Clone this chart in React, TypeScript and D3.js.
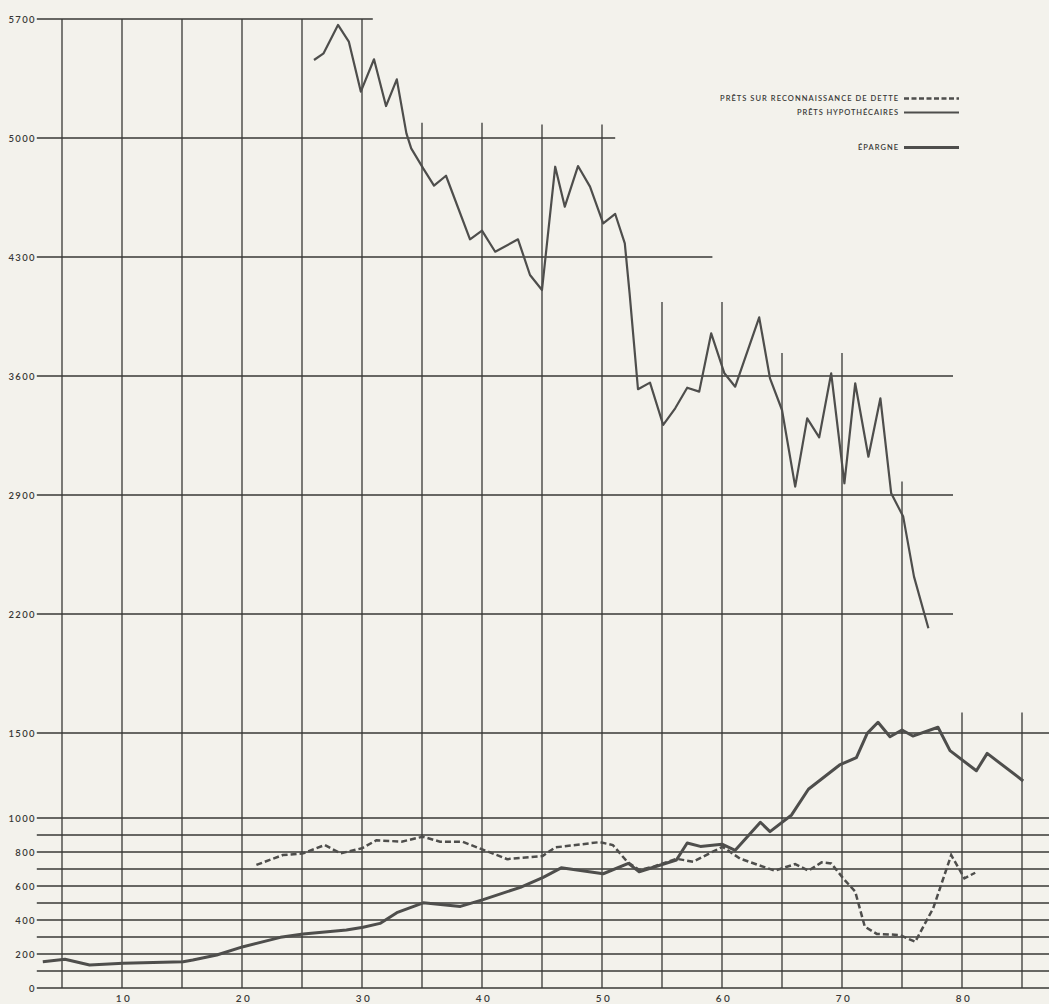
import * as d3 from 'd3';

// ---- data ----
const yTickLabels = [0, 200, 400, 600, 800, 1000, 1500, 2200, 2900, 3600, 4300, 5000, 5700];
const xTickLabels = [10, 20, 30, 40, 50, 60, 70, 80];

// horizontal rules: value and where (x units) the rule stops on the right
const hRuleValues = [0, 100, 200, 300, 400, 500, 600, 700, 800, 900, 1000, 1500, 2200, 2900, 3600, 4300, 5000, 5700];
const hRuleEnds = [87.3, 87.3, 87.3, 87.3, 87.3, 87.3, 87.3, 87.3, 87.3, 87.3, 87.3, 87.3, 79.25, 79.25, 79.25, 59.2, 51.1, 30.9];

// vertical rules: x and the value where each one starts at the top
const vRuleValues = [5, 10, 15, 20, 25, 30, 35, 40, 45, 50, 55, 60, 65, 70, 75, 80, 85];
const vRuleTops = [5700, 5700, 5700, 5700, 5700, 5700, 5090, 5090, 5080, 5080, 4035, 4035, 3735, 3735, 2980, 1620, 1620];

// Prêts hypothécaires (upper solid line)
const hypoX = [26, 26.8, 28, 28.9, 29.9, 31, 32, 32.9, 33.7, 34.1, 35.1, 36, 37, 39, 40, 41.1, 43, 44, 45, 46.1, 46.9, 48, 49, 50.1, 51.1, 51.9, 52.3, 53, 54, 55.1, 56.1, 57.1, 58.1, 59.1, 60.2, 61.1, 63.1, 64, 65, 66.1, 67.1, 68.1, 69.1, 70.2, 71.1, 72.2, 73.2, 74.1, 75.1, 76, 77.2];
const hypoV = [5459, 5498, 5665, 5567, 5273, 5463, 5188, 5345, 5027, 4939, 4821, 4720, 4778, 4404, 4455, 4331, 4404, 4194, 4106, 4831, 4596, 4835, 4714, 4498, 4553, 4380, 4086, 3522, 3561, 3312, 3410, 3531, 3508, 3851, 3616, 3537, 3945, 3586, 3400, 2949, 3351, 3239, 3616, 2969, 3557, 3125, 3469, 2910, 2773, 2420, 2116];

// Épargne (lower thick line)
const epX = [3.4, 5.25, 7.3, 10.1, 15.1, 15.9, 17.9, 20.1, 23.2, 25.1, 28.7, 30.1, 31.5, 32.9, 35.1, 38.2, 40.1, 43.2, 45.1, 46.6, 50.1, 52.2, 53.1, 56.2, 57.1, 58.2, 60.0, 61.1, 63.2, 64.0, 65.8, 67.2, 69.8, 71.2, 72.1, 73.0, 74.0, 75.0, 75.9, 78.0, 79.0, 81.2, 82.1, 85.1];
const epV = [155, 169, 135, 145, 155, 165, 194, 243, 298, 318, 341, 357, 380, 443, 501, 480, 520, 592, 651, 707, 672, 733, 684, 753, 853, 833, 846, 810, 975, 920, 1018, 1169, 1312, 1355, 1498, 1563, 1478, 1518, 1482, 1534, 1396, 1278, 1380, 1218];

// Prêts sur reconnaissance de dette (dashed)
const deX = [21.2, 23.4, 25.1, 26.9, 28.2, 30.0, 31.2, 33.3, 35.05, 36.5, 38.4, 42.1, 45.05, 46.1, 49.8, 50.9, 52.1, 53.1, 54.3, 56.2, 57.6, 60.05, 61.5, 64.4, 66.1, 67.2, 68.3, 69.1, 70.1, 71.1, 71.9, 72.9, 74.8, 76.1, 77.6, 79.1, 80.2, 81.1];
const deV = [724, 782, 792, 841, 792, 822, 869, 861, 890, 861, 860, 758, 776, 827, 858, 841, 743, 694, 714, 760, 743, 831, 761, 690, 729, 690, 739, 733, 645, 567, 361, 318, 312, 272, 469, 782, 645, 678];

const legendLabels = ['PRÊTS SUR RECONNAISSANCE DE DETTE', 'PRÊTS HYPOTHÉCAIRES', 'ÉPARGNE'];

const W = 1049;
const H = 1004;
const INK = '#383836';
const LINE = '#4e4e4c';

export default function App() {
  const x = d3.scaleLinear().domain([0, 85]).range([2, 1022]);
  const y = d3.scaleLinear().domain([0, 5700]).range([988, 19]);
  const xLeft = 2.9;

  const line = d3.line<[number, number]>()
    .x(d => x(d[0]))
    .y(d => y(d[1]));

  const hypo = line(hypoX.map((v, i) => [v, hypoV[i]]) as [number, number][]) || '';
  const ep = line(epX.map((v, i) => [v, epV[i]]) as [number, number][]) || '';
  const de = line(deX.map((v, i) => [v, deV[i]]) as [number, number][]) || '';

  const legend = [
    { label: legendLabels[0], y: 101, len: 178, dash: '5,2.5', w: 2.4 },
    { label: legendLabels[1], y: 115, len: 101, dash: 'none', w: 1.8 },
    { label: legendLabels[2], y: 150, len: 40, dash: 'none', w: 3 },
  ];

  return (
    <div style={{ position: 'absolute', left: 0, top: 0, width: W, height: H, background: '#f3f2ec' }}>
      <svg width={W} height={H} viewBox={`0 0 ${W} ${H}`} style={{ display: 'block' }}>
        <rect x={0} y={0} width={W} height={H} fill="#f3f2ec" />

        {/* horizontal rules */}
        <g stroke={INK} strokeWidth={1.3}>
          {hRuleValues.map((v, i) => (
            <line key={`h${v}`} x1={x(xLeft)} x2={x(hRuleEnds[i])} y1={y(v)} y2={y(v)} />
          ))}
        </g>

        {/* vertical rules */}
        <g stroke={INK} strokeWidth={1.3}>
          {vRuleValues.map((v, i) => (
            <line key={`v${v}`} x1={x(v)} x2={x(v)} y1={y(vRuleTops[i])} y2={y(0)} />
          ))}
        </g>

        {/* y tick labels */}
        <g fontFamily="Lato, 'DejaVu Sans', sans-serif" fontSize={9.5} fontWeight={600} fill={INK} letterSpacing={1.3}>
          {yTickLabels.map(v => (
            <text key={`yl${v}`} x={x(xLeft) - 1} y={y(v) + 3.5} textAnchor="end">{v}</text>
          ))}
        </g>

        {/* x tick labels */}
        <g fontFamily="Lato, 'DejaVu Sans', sans-serif" fontSize={10} fontWeight={600} fill={INK} letterSpacing={2.5}>
          {xTickLabels.map(v => (
            <text key={`xl${v}`} x={x(v) + 2} y={1002} textAnchor="middle">{v}</text>
          ))}
        </g>

        {/* series */}
        <path d={hypo} fill="none" stroke={LINE} strokeWidth={2.2} strokeLinejoin="round" />
        <path d={ep} fill="none" stroke={LINE} strokeWidth={3} strokeLinejoin="round" />
        <path d={de} fill="none" stroke={LINE} strokeWidth={2.5} strokeDasharray="6,3" />

        {/* legend */}
        <g fontFamily="Lato, 'DejaVu Sans', sans-serif" fontSize={7.5} fontWeight={600} fill={INK}>
          {legend.map(l => (
            <g key={l.label}>
              <text x={898} y={l.y} textAnchor="end" textLength={l.len} lengthAdjust="spacing">{l.label}</text>
              <line x1={904} x2={959} y1={l.y - 2.5} y2={l.y - 2.5} stroke={LINE} strokeWidth={l.w}
                strokeDasharray={l.dash} />
            </g>
          ))}
        </g>
      </svg>
    </div>
  );
}
